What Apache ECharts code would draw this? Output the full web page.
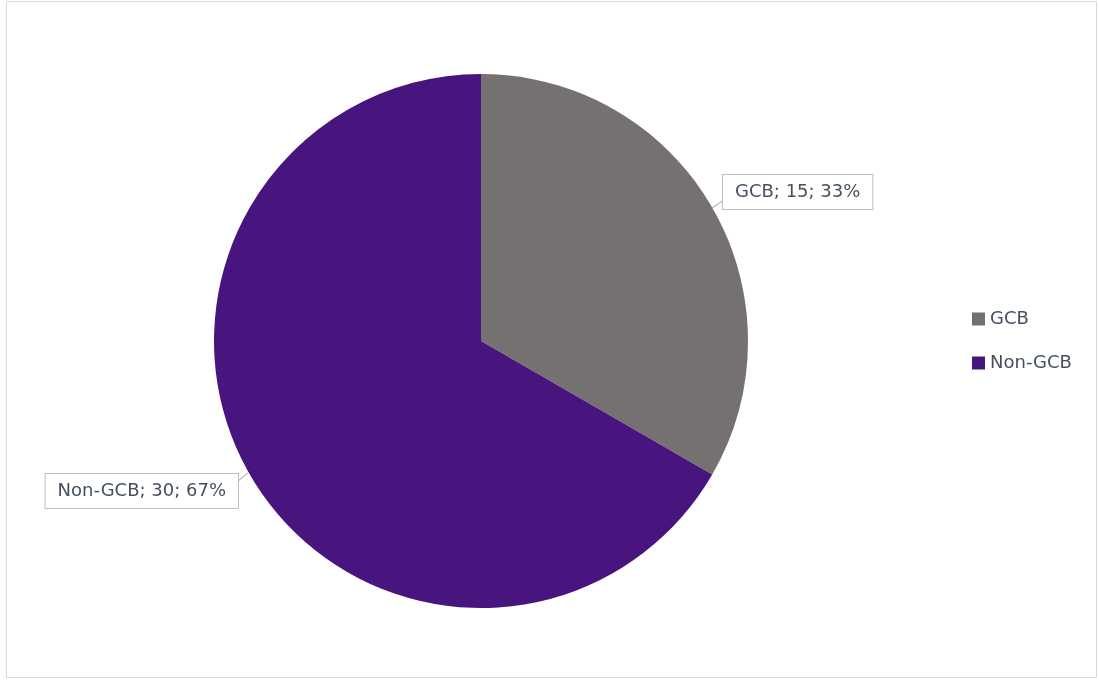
<!DOCTYPE html>
<html>
<head>
<meta charset="utf-8">
<script src="https://cdn.jsdelivr.net/npm/echarts@6/dist/echarts.min.js"></script>
<style>
html,body{margin:0;padding:0;background:#fff;}
#chart{width:1099px;height:680px;}
</style>
</head>
<body>
<div id="chart"></div>
<script>
const categories = ['GCB', 'Non-GCB'];
const values = [15, 30];
const colors = ['#767171', '#48157F'];

const total = values.reduce((a, b) => a + b, 0);
const chart = echarts.init(document.getElementById('chart'), null, {renderer: 'canvas'});

const FONT = 'DejaVu Sans';
const TEXT_COLOR = '#44505F';

chart.setOption({
  animation: false,
  backgroundColor: '#ffffff',
  graphic: [{
    type: 'rect',
    shape: {x: 6.5, y: 1.5, width: 1090, height: 676},
    style: {fill: 'none', stroke: '#D9D9D9', lineWidth: 1},
    silent: true
  }],
  legend: {
    orient: 'vertical',
    left: 967,
    top: 305,
    icon: 'rect',
    itemWidth: 13,
    itemHeight: 13,
    itemGap: 26,
    textStyle: {fontFamily: FONT, fontSize: 18, color: TEXT_COLOR, padding: [0, 0, 0, 0]},
    data: categories
  },
  series: [{
    type: 'pie',
    center: [481, 341],
    radius: 267,
    startAngle: 90,
    clockwise: true,
    silent: true,
    data: categories.map((c, i) => ({name: c, value: values[i], itemStyle: {color: colors[i]}})),
    label: {
      show: true,
      position: 'outside',
      formatter: p => p.name + '; ' + p.value + '; ' + Math.round(p.value / total * 100) + '%',
      fontFamily: FONT,
      fontSize: 18,
      color: TEXT_COLOR,
      backgroundColor: '#ffffff',
      borderColor: '#BFBFBF',
      borderWidth: 1,
      padding: [8, 12, 8, 12]
    },
    labelLine: {show: true, length: 0, length2: 10, lineStyle: {color: '#BFBFBF', width: 1.5}},
    labelLayout: function (p) {
      if (p.dataIndex === 0) {
        return {x: 723, y: 192, align: 'left', verticalAlign: 'middle',
                labelLinePoints: [[712, 208], [718, 204], [724, 200]]};
      }
      return {x: 238, y: 491, align: 'right', verticalAlign: 'middle',
              labelLinePoints: [[248, 473], [243, 477], [238, 481]]};
    }
  }]
});
</script>
</body>
</html>
